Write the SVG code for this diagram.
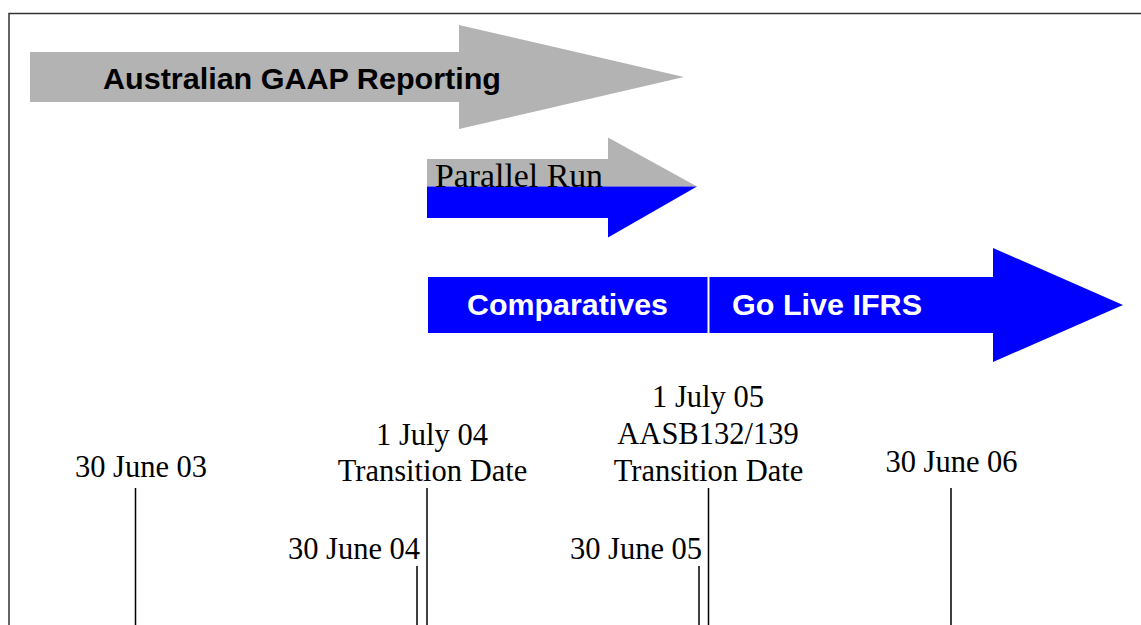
<svg xmlns="http://www.w3.org/2000/svg" width="1141" height="625" viewBox="0 0 1141 625">
<style>
.frame{fill:#fff;stroke:#333;stroke-width:1.5}
.gray{fill:#b3b3b3}
.blue{fill:#0000ff}
.bold{font-family:"Liberation Sans",Arial,sans-serif;font-weight:bold;font-size:30px}
.serif{font-family:"Liberation Serif","Times New Roman",serif;font-size:30.5px;fill:#000}
.tick{stroke:#000;stroke-width:1.5;fill:none}
</style>
<rect width="1141" height="625" fill="#fff"/>
<rect class="frame" x="9" y="13.5" width="1140" height="620"/>
<g id="gaap">
<polygon class="gray" points="30,52 459,52 459,25 684,77 459,129 459,102 30,102"/>
<text class="bold" x="103" y="89" fill="#000" textLength="398" lengthAdjust="spacingAndGlyphs">Australian GAAP Reporting</text>
</g>
<g id="parallel">
<polygon class="gray" points="427,159 608,159 608,137.5 697,186.5 427,186.5"/>
<polygon class="blue" points="427,186.5 697,186.5 608,237.5 608,218 427,218"/>
<text class="serif" x="435" y="186.5" style="font-size:33.5px" textLength="168" lengthAdjust="spacingAndGlyphs">Parallel Run</text>
</g>
<g id="ifrs">
<polygon class="blue" points="428,277 993,277 993,248 1123,305 993,362 993,333 428,333"/>
<line x1="708.5" y1="277" x2="708.5" y2="333" stroke="#fff" stroke-width="2"/>
<text class="bold" x="467" y="315" fill="#fff" textLength="201" lengthAdjust="spacingAndGlyphs">Comparatives</text>
<text class="bold" x="732" y="315" fill="#fff" textLength="190" lengthAdjust="spacingAndGlyphs">Go Live IFRS</text>
</g>
<g id="connectors">
<line class="tick" x1="135.5" y1="488" x2="135.5" y2="625"/>
<line class="tick" x1="427" y1="488" x2="427" y2="625"/>
<line class="tick" x1="417" y1="566" x2="417" y2="625"/>
<line class="tick" x1="708.5" y1="488" x2="708.5" y2="625"/>
<line class="tick" x1="699" y1="566" x2="699" y2="625"/>
<line class="tick" x1="951" y1="488" x2="951" y2="625"/>
</g>
<g id="d0306">
<text class="serif" x="141" y="477" text-anchor="middle">30 June 03</text>
</g>
<g id="d0107-04">
<text class="serif" x="432" y="445" text-anchor="middle">1 July 04</text>
<text class="serif" x="432.5" y="481" text-anchor="middle">Transition Date</text>
</g>
<g id="d0107-05">
<text class="serif" x="708" y="407" text-anchor="middle">1 July 05</text>
<text class="serif" x="708" y="444" text-anchor="middle">AASB132/139</text>
<text class="serif" x="708.5" y="481" text-anchor="middle">Transition Date</text>
</g>
<g id="d3006-06">
<text class="serif" x="951.5" y="472" text-anchor="middle">30 June 06</text>
</g>
<g id="d3006-04">
<text class="serif" x="354" y="559" text-anchor="middle">30 June 04</text>
</g>
<g id="d3006-05">
<text class="serif" x="636" y="559" text-anchor="middle">30 June 05</text>
</g>
</svg>
